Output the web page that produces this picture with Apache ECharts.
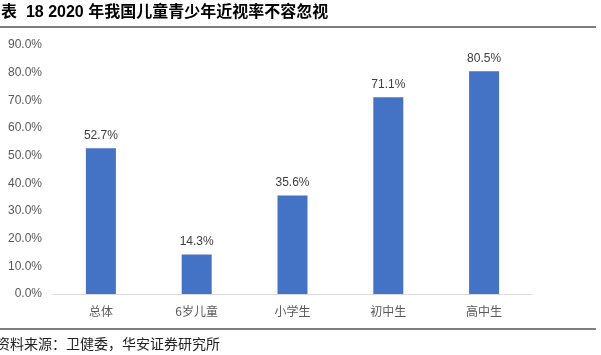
<!DOCTYPE html>
<html><head><meta charset="utf-8">
<script src="https://cdn.jsdelivr.net/npm/echarts@6/dist/echarts.min.js"></script>
<style>html,body{margin:0;padding:0;background:#fff}#c{width:601px;height:355px}</style>
</head><body><div id="c"></div>
<script>
const categories = ['总体', '6岁儿童', '小学生', '初中生', '高中生'];
const values = [52.7, 14.3, 35.6, 71.1, 80.5];
const yTicks = [0, 10, 20, 30, 40, 50, 60, 70, 80, 90];
const titleText = '表  18 2020 年我国儿童青少年近视率不容忽视';
const sourceText = '资料来源：卫健委，华安证券研究所';

const chart = echarts.init(document.getElementById('c'), null, {renderer: 'canvas'});
chart.setOption({
  animation: false,
  backgroundColor: '#fff',
  grid: {left: 53, right: 69, top: 45, bottom: 61},
  xAxis: {
    type: 'category', data: categories,
    axisLine: {lineStyle: {color: '#d9d9d9', width: 1}},
    axisTick: {show: false},
    axisLabel: {color: '#595959', fontSize: 12, margin: 11, fontFamily: 'Noto Sans CJK SC'}
  },
  yAxis: {
    type: 'value', min: yTicks[0], max: yTicks[yTicks.length - 1], interval: 10,
    splitLine: {show: false}, axisLine: {show: false}, axisTick: {show: false},
    axisLabel: {color: '#595959', fontSize: 12, margin: 11, fontFamily: 'Liberation Sans',
      formatter: v => v.toFixed(1) + '%'}
  },
  series: [{
    type: 'bar', data: values, barWidth: 30,
    itemStyle: {color: '#4472C4'},
    label: {show: true, position: 'top', distance: 7, color: '#404040', fontSize: 12,
      fontFamily: 'Liberation Sans', formatter: p => p.value.toFixed(1) + '%'}
  }],
  graphic: [
    {type: 'text', left: 1, top: 5, style: {text: titleText, font: 'bold 16px "Liberation Sans", "Noto Sans CJK SC"', fill: '#000'}},
    {type: 'line', shape: {x1: 0, y1: 27, x2: 596, y2: 27}, style: {stroke: '#555', lineWidth: 1.5}},
    {type: 'line', shape: {x1: 0, y1: 329, x2: 596, y2: 329}, style: {stroke: '#555', lineWidth: 1.5}},
    {type: 'text', left: -4, top: 337, style: {text: sourceText, font: '14px "Noto Sans CJK SC"', fill: '#222'}}
  ]
});
</script></body></html>
